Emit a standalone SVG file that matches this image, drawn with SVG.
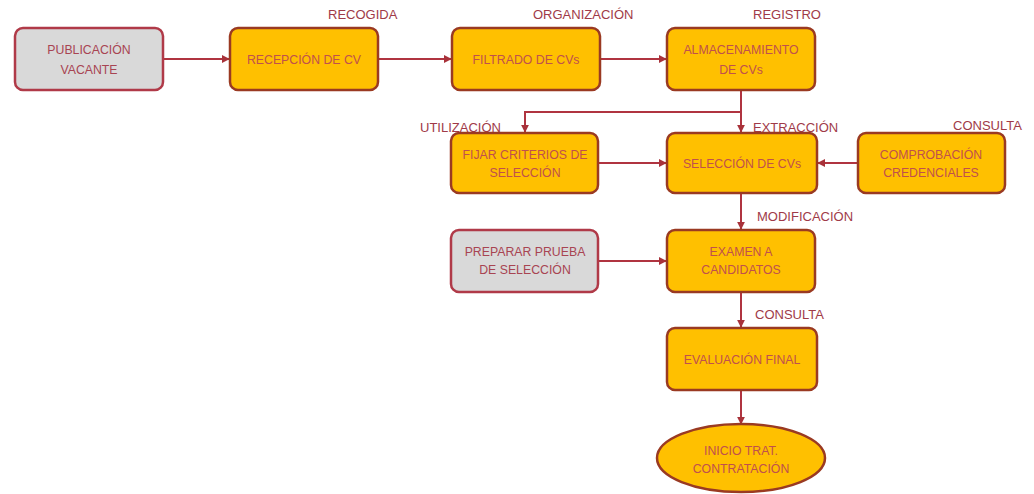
<svg xmlns="http://www.w3.org/2000/svg" width="1034" height="494" viewBox="0 0 1034 494">
<defs>
<marker id="arr" viewBox="0 0 10 10" refX="9" refY="5" markerWidth="4" markerHeight="4" orient="auto">
<path d="M0,0 L10,5 L0,10 z" fill="#A8323A"/>
</marker>
</defs>
<style>
.bg{fill:#FFFFFF}
.box{fill:#FFC000;stroke:#9A3A22;stroke-width:2.5}
.gbox{fill:#D9D9D9;stroke:#B03A48;stroke-width:2.5}
.t{font-family:"Liberation Sans",Arial,sans-serif;font-size:12.3px;fill:#C0504D;text-anchor:middle}
.gt{font-family:"Liberation Sans",Arial,sans-serif;font-size:12.3px;fill:#A84452;text-anchor:middle}
.lbl{font-family:"Liberation Sans",Arial,sans-serif;font-size:13px;fill:#A03A48}
.c{fill:none;stroke:#B03440;stroke-width:2}
</style>
<rect class="bg" x="0" y="0" width="1034" height="494"/>
<g id="connectors">
<line class="c" x1="163" y1="59" x2="229" y2="59" marker-end="url(#arr)"/>
<line class="c" x1="378" y1="59" x2="451" y2="59" marker-end="url(#arr)"/>
<line class="c" x1="600" y1="59" x2="666" y2="59" marker-end="url(#arr)"/>
<line class="c" x1="741" y1="90" x2="741" y2="132" marker-end="url(#arr)"/>
<polyline class="c" points="741,112 525,112 525,132" marker-end="url(#arr)"/>
<line class="c" x1="598" y1="163" x2="666" y2="163" marker-end="url(#arr)"/>
<line class="c" x1="858" y1="163" x2="818" y2="163" marker-end="url(#arr)"/>
<line class="c" x1="741" y1="193" x2="741" y2="229" marker-end="url(#arr)"/>
<line class="c" x1="598" y1="261" x2="666" y2="261" marker-end="url(#arr)"/>
<line class="c" x1="741" y1="292" x2="741" y2="327" marker-end="url(#arr)"/>
<line class="c" x1="741" y1="390" x2="741" y2="424" marker-end="url(#arr)"/>
</g>
<g id="labels">
<text class="lbl" x="328" y="19">RECOGIDA</text>
<text class="lbl" x="533" y="19">ORGANIZACIÓN</text>
<text class="lbl" x="753" y="19">REGISTRO</text>
<text class="lbl" x="420" y="132">UTILIZACIÓN</text>
<text class="lbl" x="753" y="132">EXTRACCIÓN</text>
<text class="lbl" x="953" y="130">CONSULTA</text>
<text class="lbl" x="757" y="221">MODIFICACIÓN</text>
<text class="lbl" x="755" y="319">CONSULTA</text>
</g>
<g id="n-publicacion">
<rect class="gbox" x="15" y="28" width="148" height="62" rx="8"/>
<text class="gt" x="89" y="54">PUBLICACIÓN</text>
<text class="gt" x="89" y="74">VACANTE</text>
</g>
<g id="n-recepcion">
<rect class="box" x="230" y="28" width="148" height="62" rx="8"/>
<text class="t" x="304" y="64">RECEPCIÓN DE CV</text>
</g>
<g id="n-filtrado">
<rect class="box" x="452" y="28" width="148" height="62" rx="8"/>
<text class="t" x="526" y="64">FILTRADO DE CVs</text>
</g>
<g id="n-almacenamiento">
<rect class="box" x="667" y="28" width="148" height="62" rx="8"/>
<text class="t" x="741" y="54">ALMACENAMIENTO</text>
<text class="t" x="741" y="74">DE CVs</text>
</g>
<g id="n-fijar">
<rect class="box" x="451" y="133" width="147" height="60" rx="8"/>
<text class="t" x="525" y="159">FIJAR CRITERIOS DE</text>
<text class="t" x="525" y="177">SELECCIÓN</text>
</g>
<g id="n-seleccion">
<rect class="box" x="667" y="133" width="150" height="60" rx="8"/>
<text class="t" x="742" y="168">SELECCIÓN DE CVs</text>
</g>
<g id="n-comprobacion">
<rect class="box" x="858" y="133" width="147" height="60" rx="8"/>
<text class="t" x="931" y="159">COMPROBACIÓN</text>
<text class="t" x="931" y="177">CREDENCIALES</text>
</g>
<g id="n-preparar">
<rect class="gbox" x="451" y="230" width="147" height="62" rx="8"/>
<text class="gt" x="525" y="256">PREPARAR PRUEBA</text>
<text class="gt" x="525" y="274">DE SELECCIÓN</text>
</g>
<g id="n-examen">
<rect class="box" x="667" y="230" width="148" height="62" rx="8"/>
<text class="t" x="741" y="256">EXAMEN A</text>
<text class="t" x="741" y="274">CANDIDATOS</text>
</g>
<g id="n-evaluacion">
<rect class="box" x="667" y="328" width="150" height="62" rx="8"/>
<text class="t" x="742" y="364">EVALUACIÓN FINAL</text>
</g>
<g id="n-inicio">
<ellipse class="box" cx="741" cy="458" rx="84" ry="34"/>
<text class="t" x="741" y="455">INICIO TRAT.</text>
<text class="t" x="741" y="473">CONTRATACIÓN</text>
</g>
</svg>
